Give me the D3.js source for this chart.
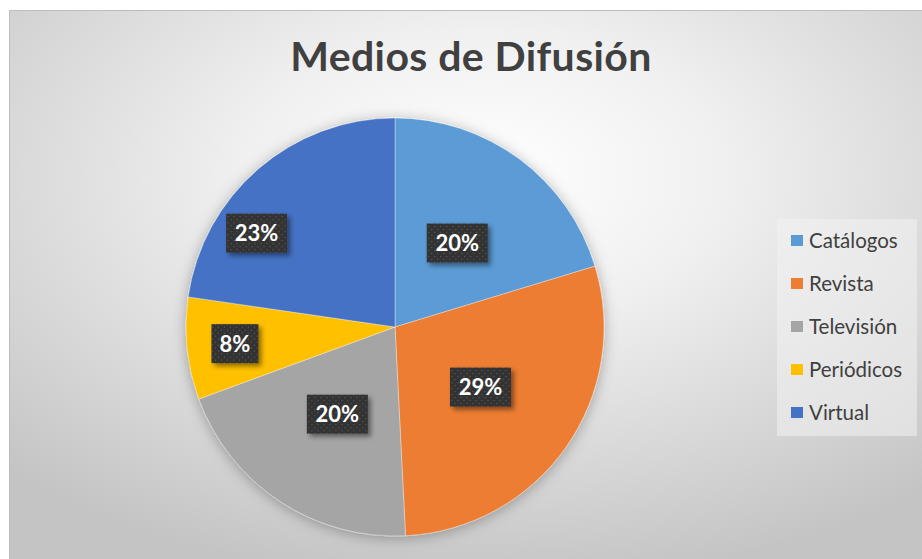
<!DOCTYPE html>
<html>
<head>
<meta charset="utf-8">
<script src="https://cdn.jsdelivr.net/npm/d3@7"></script>
<style>
  html, body { margin: 0; padding: 0; background: #fff; }
  svg { display: block; }
</style>
</head>
<body>
<svg id="chart" width="922" height="559"></svg>
<script>
// data
const categories = ["Catálogos", "Revista", "Televisión", "Periódicos", "Virtual"];
const values = [20.3, 28.9, 20.2, 7.9, 22.7];
const colors = ["#5b9bd5", "#ed7d31", "#a5a5a5", "#ffc000", "#4472c4"];
// label placement: radius factor and angle shift (deg) relative to slice middle
const labelRadius = [0.5, 0.5, 0.5, 0.77, 0.8];
const labelShift = [0, 0, 0, 0, -15];

const svg = d3.select("#chart");
const W = 922, H = 559;
const cx = 395, cy = 327, R = 209;
const font = "Lato, 'Open Sans', sans-serif";

const defs = svg.append("defs");

// background gradient
const bg = defs.append("radialGradient")
    .attr("id", "bg")
    .attr("cx", "0.52").attr("cy", "0.3").attr("r", "0.75")
    .attr("gradientUnits", "objectBoundingBox");
bg.append("stop").attr("offset", 0).attr("stop-color", "#ffffff");
bg.append("stop").attr("offset", 0.35).attr("stop-color", "#f0f0f0");
bg.append("stop").attr("offset", 1).attr("stop-color", "#c4c4c4");

// label pattern
const pat = defs.append("pattern")
    .attr("id", "dots")
    .attr("width", 6).attr("height", 6)
    .attr("patternUnits", "userSpaceOnUse");
pat.append("rect").attr("width", 6).attr("height", 6).attr("fill", "#333333");
pat.append("circle").attr("cx", 1.5).attr("cy", 1.5).attr("r", 0.7).attr("fill", "#5a5a5a");
pat.append("circle").attr("cx", 4.5).attr("cy", 4.5).attr("r", 0.7).attr("fill", "#5a5a5a");

// shadows
defs.append("filter").attr("id", "pieShadow")
    .attr("x", "-20%").attr("y", "-20%").attr("width", "140%").attr("height", "140%")
    .append("feDropShadow")
    .attr("dx", 0).attr("dy", 2).attr("stdDeviation", 7)
    .attr("flood-color", "#000").attr("flood-opacity", 0.3);
defs.append("filter").attr("id", "lblShadow")
    .attr("x", "-30%").attr("y", "-30%").attr("width", "170%").attr("height", "170%")
    .append("feDropShadow")
    .attr("dx", 3).attr("dy", 3).attr("stdDeviation", 2.5)
    .attr("flood-color", "#000").attr("flood-opacity", 0.45);

// chart area
svg.append("rect")
    .attr("x", 9).attr("y", 10)
    .attr("width", W - 9).attr("height", H - 10)
    .attr("fill", "url(#bg)");
svg.append("path")
    .attr("d", `M9.5,${H}V10.5H${W}`)
    .attr("fill", "none")
    .attr("stroke", "#bdbdbd");

// title
svg.append("text")
    .attr("x", 471).attr("y", 71)
    .attr("text-anchor", "middle")
    .style("font-family", font)
    .style("font-weight", "bold")
    .style("font-size", "41px")
    .style("letter-spacing", "0.4px")
    .style("fill", "#404040")
    .text("Medios de Difusión");

// pie
const pie = d3.pie().sort(null).value(d => d)(values);
const arc = d3.arc().innerRadius(0).outerRadius(R);

const g = svg.append("g").attr("transform", `translate(${cx},${cy})`);
g.append("g")
    .attr("filter", "url(#pieShadow)")
    .selectAll("path")
    .data(pie).enter()
    .append("path")
    .attr("d", arc)
    .attr("fill", (d, i) => colors[i])
    .attr("stroke", "#ffffff")
    .attr("stroke-opacity", 0.6)
    .attr("stroke-width", 0.6);

// data labels
const total = d3.sum(values);
const fmt = v => `${Math.round(v / total * 100)}%`;
const labels = g.append("g").selectAll("g")
    .data(pie).enter()
    .append("g")
    .attr("transform", (d, i) => {
        const a = (d.startAngle + d.endAngle) / 2 + labelShift[i] * Math.PI / 180;
        const r = R * labelRadius[i];
        return `translate(${r * Math.sin(a)},${-r * Math.cos(a)})`;
    });
labels.each(function(d, i) {
    const sel = d3.select(this);
    const txt = fmt(d.value);
    const w = txt.length > 2 ? 61 : 47;
    sel.append("rect")
        .attr("x", -w / 2).attr("y", -19.5)
        .attr("width", w).attr("height", 39)
        .attr("fill", "url(#dots)")
        .attr("filter", "url(#lblShadow)");
    sel.append("text")
        .attr("text-anchor", "middle")
        .attr("dy", "0.36em")
        .style("font-family", font)
        .style("font-weight", "bold")
        .style("font-size", "22px")
        .style("fill", "#ffffff")
        .text(txt);
});

// legend
const legend = svg.append("g").attr("transform", "translate(777,219)");
legend.append("rect")
    .attr("width", 140).attr("height", 217)
    .attr("fill", "#f2f2f2").attr("fill-opacity", 0.55);
const item = legend.selectAll("g.item")
    .data(categories).enter()
    .append("g").attr("class", "item")
    .attr("transform", (d, i) => `translate(14,${22 + i * 43})`);
item.append("rect")
    .attr("x", 0).attr("y", -6)
    .attr("width", 12).attr("height", 11)
    .attr("fill", (d, i) => colors[i]);
item.append("text")
    .attr("x", 18).attr("dy", "0.35em")
    .style("font-family", font)
    .style("font-size", "20.5px")
    .style("fill", "#404040")
    .text(d => d);
</script>
</body>
</html>
